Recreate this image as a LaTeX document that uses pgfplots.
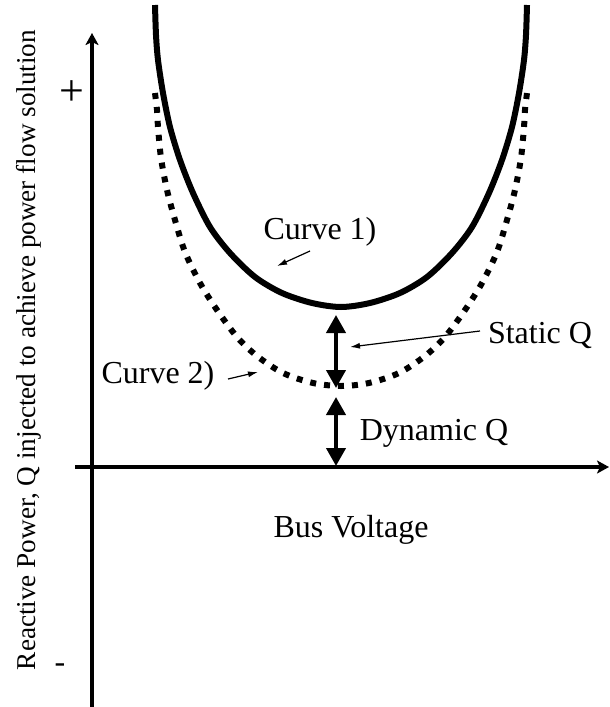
\documentclass[border=0pt]{standalone}
\usepackage{fontspec}
\setmainfont{Liberation Serif}
\usepackage{pgfplots}
\pgfplotsset{compat=1.18}
\usetikzlibrary{arrows.meta}

\begin{document}
\begin{tikzpicture}[font=\fontsize{16pt}{19pt}\selectfont]
\begin{axis}[
    scale only axis, width=305pt, height=353.5pt,
    xmin=0, xmax=610, ymin=0, ymax=707, y dir=reverse,
    hide axis, clip=false
]
% axes
\addplot[line width=1.7pt, -{Stealth[length=6pt,width=6.5pt,inset=1.5pt]}] coordinates {(92,707) (92,33)};
\addplot[line width=1.9pt, -{Stealth[length=6pt,width=6.5pt,inset=1.5pt]}] coordinates {(75,467) (609,467)};

% curve 1 (solid)
\addplot[line width=3pt, smooth] coordinates {
    (155,5) (156,35) (158,60) (163,93) (170,127) (180,160) (193,193) (210,227)
    (230,253) (255,277) (282,293) (312,303) (341,307)
    (370,303) (400,293) (427,277) (452,253) (472,227) (489,193) (502,160)
    (512,127) (519,93) (524,60) (526,35) (527,5)
};
% curve 2 (dotted)
\addplot[line width=3pt, dash pattern=on 3pt off 4pt, smooth] coordinates {
    (155,93) (157,110) (158,127) (161,158) (167,190) (175,220) (185,252) (200,283)
    (217,310) (237,337) (257,356) (283,373) (313,383) (341,386)
    (369,383) (399,373) (425,356) (445,337) (465,310) (482,283) (497,252)
    (507,220) (515,190) (521,158) (524,127) (525,110) (527,93)
};

% static / dynamic Q
\addplot[line width=2pt, {Triangle[length=9pt,width=9.5pt]}-{Triangle[length=9pt,width=9.5pt]}] coordinates {(336,315) (336,388)};
\addplot[line width=2pt, {Triangle[length=9pt,width=9.5pt]}-{Triangle[length=9pt,width=9.5pt]}] coordinates {(336,397) (336,466)};

% pointers
\addplot[line width=0.6pt, -{Latex[length=5pt,width=3pt]}] coordinates {(310,251) (277,266)};
\addplot[line width=0.6pt, -{Latex[length=5pt,width=3pt]}] coordinates {(228,379) (258,372)};
\addplot[line width=0.6pt, -{Latex[length=5pt,width=3pt]}] coordinates {(480,331) (350,347)};

% text
\node[anchor=base] at (axis cs:320,239) {Curve 1)};
\node[anchor=base] at (axis cs:158,383) {Curve 2)};
\node[anchor=base] at (axis cs:540,343) {Static Q};
\node[anchor=base] at (axis cs:434,440) {Dynamic Q};
\node[anchor=base] at (axis cs:351,537) {Bus Voltage};
\node[anchor=center, font=\fontsize{22pt}{26pt}\selectfont] at (axis cs:72,93) {+};
\node[anchor=base] at (axis cs:60,672) {-};
\node[anchor=base, rotate=90, font=\fontsize{13.6pt}{16pt}\selectfont] at (axis cs:35,350) {Reactive Power, Q injected to achieve power flow solution};
\end{axis}
\pgfresetboundingbox
\path[use as bounding box] (0,0) rectangle (305pt,353.5pt);
\end{tikzpicture}
\end{document}
